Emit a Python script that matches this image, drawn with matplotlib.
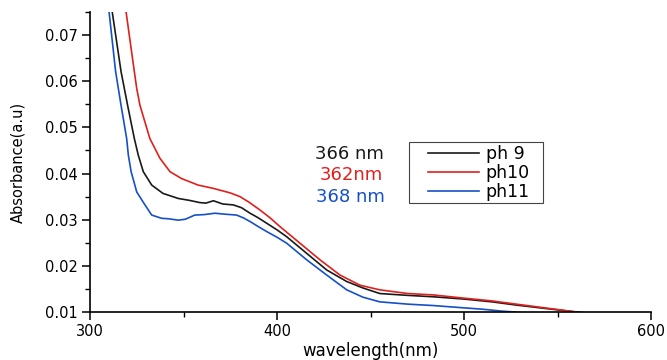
import matplotlib
matplotlib.use("Agg")
import matplotlib.pyplot as plt
from matplotlib.ticker import MultipleLocator
from matplotlib.patches import Rectangle

plt.rcParams['font.family'] = ['DejaVu Sans']

# ph 9
wl_ph9 = [309, 311.9, 316.6, 320.1, 323.7, 325.8, 328.5, 333, 339, 347.2, 353, 358.8,
          362, 366, 371, 376.7, 381, 385.6, 390, 394.6, 400, 405.2, 415.9, 426.6,
          437.3, 446, 455, 470, 483.5, 500, 515, 528, 545, 558, 565]
abs_ph9 = [0.085, 0.075, 0.0621, 0.0548, 0.0476, 0.0440, 0.0404, 0.0375, 0.0357,
           0.0346, 0.0342, 0.0337, 0.0336, 0.0341, 0.0334, 0.0332, 0.0326, 0.0314,
           0.0304, 0.0292, 0.0278, 0.0263, 0.0227, 0.0191, 0.0166, 0.0152, 0.0140,
           0.0136, 0.0133, 0.0128, 0.0122, 0.0115, 0.0107, 0.0101, 0.0098]

# ph10
wl_ph10 = [316.5, 319.3, 323.7, 325, 326.7, 332, 337.4, 342.8, 349, 357.8, 365.8, 369.5,
           375, 380.2, 385, 390.9, 396, 401.6, 412.3, 423, 433.7, 444.4, 455, 470,
           483.5, 500, 515, 528, 545, 558, 565]
abs_ph10 = [0.085, 0.075, 0.0621, 0.0584, 0.0548, 0.0476, 0.0433, 0.0404, 0.0389,
            0.0375, 0.0368, 0.0364, 0.0358, 0.0350, 0.0338, 0.0321, 0.0305, 0.0285,
            0.0249, 0.0213, 0.0180, 0.0158, 0.0148, 0.0140, 0.0137, 0.0130, 0.0124,
            0.0117, 0.0108, 0.0101, 0.0098]

# ph11
wl_ph11 = [308, 310.2, 313.7, 316.6, 319.6, 320.5, 322, 325, 329.4, 333, 338.3, 342,
           347.2, 351, 356, 361, 366.8, 372, 378.4, 382, 385.6, 390, 394.6, 400,
           405.2, 415.9, 426.6, 437.3, 446, 455, 470, 483.5, 500, 510, 520, 527, 532]
abs_ph11 = [0.085, 0.075, 0.0621, 0.0548, 0.0476, 0.0440, 0.0404, 0.036, 0.0332,
            0.031, 0.0303, 0.0302, 0.0299, 0.0301, 0.0310, 0.0311, 0.0314, 0.0312,
            0.0310, 0.0304, 0.0296, 0.0285, 0.0274, 0.0262, 0.0249, 0.0213, 0.0180,
            0.0148, 0.0132, 0.0122, 0.0117, 0.0114, 0.0109, 0.0106, 0.0102, 0.0100,
            0.0098]

series_labels = ['ph 9', 'ph10', 'ph11']
peak_labels = ['366 nm', '362nm', '368 nm']
colors = ['#1a1a1a', '#e0201c', '#1550c8']

fig = plt.figure(figsize=(6.67, 3.6), dpi=100)
ax = fig.add_axes([90 / 667, 1 - 312 / 360, 561 / 667, 300 / 360])

curves = [(wl_ph9, abs_ph9), (wl_ph10, abs_ph10), (wl_ph11, abs_ph11)]
for (x, y), lab, c in zip(curves, series_labels, colors):
    ax.plot(x, y, color=c, lw=1.2, label=lab)

ax.set_xlim(300, 600)
ax.set_ylim(0.01, 0.075)
ax.xaxis.set_major_locator(MultipleLocator(100))
ax.xaxis.set_minor_locator(MultipleLocator(50))
ax.yaxis.set_major_locator(MultipleLocator(0.01))
ax.yaxis.set_minor_locator(MultipleLocator(0.005))
ax.yaxis.set_major_formatter(plt.FuncFormatter(lambda v, p: f"{v:.2f}"))

for side in ['top', 'right']:
    ax.spines[side].set_visible(False)
for side in ['left', 'bottom']:
    ax.spines[side].set_linewidth(1.2)

ax.tick_params(which='major', direction='out', length=6, width=1.1, labelsize=10.5, pad=3)
ax.tick_params(which='minor', direction='out', length=3.5, width=1.0)

ax.set_xlabel('wavelength(nm)', fontsize=12, labelpad=2)
ax.set_ylabel('Absorbance(a.u)', fontsize=10.5, labelpad=14)

# peak position notes
note_y = [154, 175, 197]
note_x = [315, 320, 316]
for txt, c, nx, ny in zip(peak_labels, colors, note_x, note_y):
    fig.text(nx / 667, 1 - ny / 360, txt, color=c, fontsize=13, ha='left', va='center')

# legend, framed by a separate box like the original
leg = ax.legend(loc='upper left', bbox_to_anchor=(425 / 667, 1 - 142 / 360),
                bbox_transform=fig.transFigure, fontsize=12.5, frameon=False,
                handlelength=2.9, handletextpad=0.4,
                labelspacing=0.05, borderpad=0.2, borderaxespad=0)
fig.patches.append(Rectangle((409 / 667, 1 - 203 / 360), 134 / 667, 61 / 360,
                             transform=fig.transFigure, fill=False,
                             edgecolor='#444444', linewidth=0.8))

fig.savefig('out.png', dpi=100)
